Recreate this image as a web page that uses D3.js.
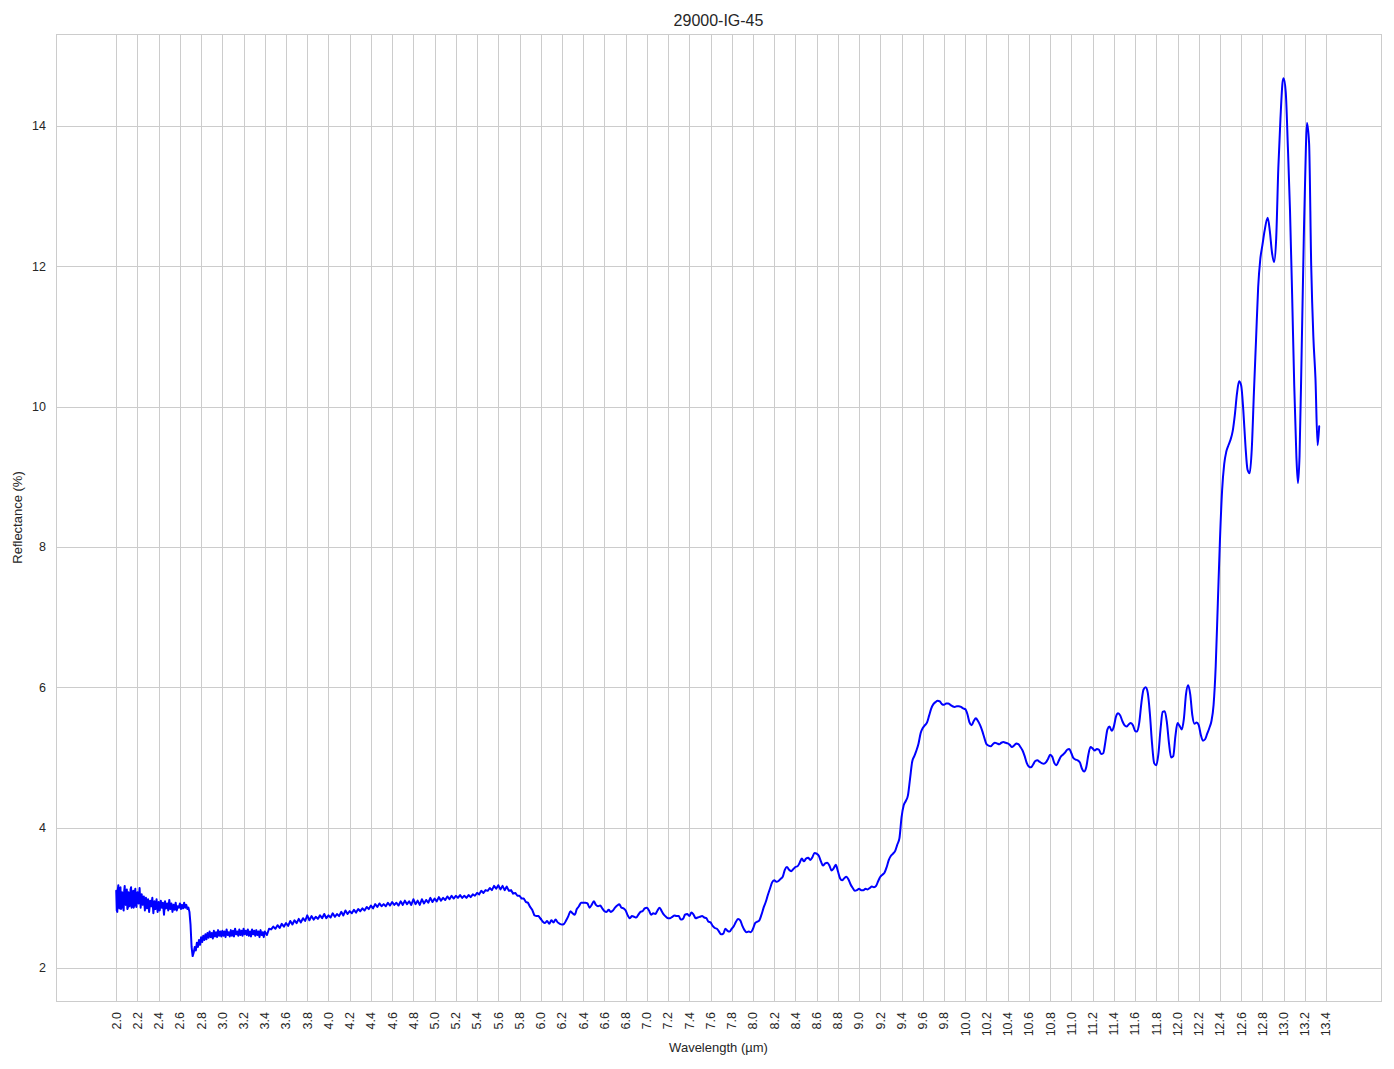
<!DOCTYPE html>
<html><head><meta charset="utf-8">
<script src="https://cdn.jsdelivr.net/npm/d3@7"></script>
<style>
body{margin:0;background:#fff}
text{font-family:"Liberation Sans",Arial,sans-serif;fill:#262626}
</style>
</head><body>
<svg id="chart" width="1394" height="1069"></svg>
<script>
const chartTitle = "29000-IG-45";
const xLabel = "Wavelength (µm)";
const yLabel = "Reflectance (%)";
const xTicks = [2.0,2.2,2.4,2.6,2.8,3.0,3.2,3.4,3.6,3.8,4.0,4.2,4.4,4.6,4.8,5.0,5.2,5.4,5.6,5.8,6.0,6.2,6.4,6.6,6.8,7.0,7.2,7.4,7.6,7.8,8.0,8.2,8.4,8.6,8.8,9.0,9.2,9.4,9.6,9.8,10.0,10.2,10.4,10.6,10.8,11.0,11.2,11.4,11.6,11.8,12.0,12.2,12.4,12.6,12.8,13.0,13.2,13.4];
const yTicks = [2,4,6,8,10,12,14];

// [wavelength, reflectance]
const segNoisy = [[2.00,3.10],[2.005,2.82],[2.01,2.80],[2.015,3.12],[2.02,3.18],[2.025,2.90],[2.03,2.85],[2.035,3.14],[2.04,3.15],[2.045,2.84],[2.05,2.88],[2.055,3.08],[2.06,3.05],[2.065,2.86],[2.07,2.82],[2.075,3.10],[2.08,3.17],[2.085,2.92],[2.09,2.90],[2.095,3.06],
[2.10,3.12],[2.105,2.84],[2.11,2.86],[2.115,3.08],[2.12,3.02],[2.125,2.88],[2.13,2.92],[2.135,3.12],[2.14,3.15],[2.145,2.86],[2.15,2.88],[2.155,3.04],[2.16,3.10],[2.165,2.86],[2.17,2.90],[2.175,3.08],[2.18,3.13],[2.185,2.90],[2.19,2.87],[2.195,3.04],
[2.20,3.08],[2.21,2.92],[2.22,3.14],[2.23,2.86],[2.24,3.05],[2.25,2.90],[2.26,3.02],[2.27,2.82],[2.28,3.00],[2.29,2.85],
[2.30,2.98],[2.31,2.80],[2.32,2.96],[2.33,2.88],[2.34,3.00],[2.35,2.78],[2.36,2.95],[2.37,2.84],[2.38,2.98],[2.39,2.80],
[2.40,2.94],[2.41,2.82],[2.42,2.96],[2.43,2.86],[2.44,2.93],[2.45,2.76],[2.46,2.95],[2.47,2.85],[2.48,2.92],[2.49,2.82],
[2.50,2.97],[2.51,2.84],[2.52,2.92],[2.53,2.80],[2.54,2.90],[2.55,2.83],[2.56,2.93],[2.57,2.82],[2.58,2.88],[2.59,2.86],
[2.60,2.92],[2.61,2.84],[2.62,2.90],[2.63,2.85],[2.64,2.93],[2.65,2.86],[2.66,2.90],[2.67,2.84],[2.68,2.86],[2.69,2.80]];
const segDip = [[2.70,2.62],[2.71,2.30],[2.72,2.17],[2.73,2.22],[2.74,2.30],[2.75,2.25],[2.76,2.36],[2.77,2.30],[2.78,2.40],[2.79,2.33],
[2.80,2.44],[2.81,2.37],[2.82,2.46],[2.83,2.40],[2.84,2.48],[2.85,2.41],[2.86,2.50],[2.87,2.43],[2.88,2.52],[2.89,2.44],
[2.90,2.50],[2.91,2.42],[2.92,2.53],[2.93,2.45],[2.94,2.51],[2.95,2.44],[2.96,2.54],[2.97,2.46],[2.98,2.52],[2.99,2.45]];
const segRise = [[3.00,2.53],[3.01,2.46],[3.02,2.52],[3.03,2.44],[3.04,2.55],[3.05,2.47],[3.06,2.51],[3.07,2.45],[3.08,2.54],[3.09,2.46],
[3.10,2.53],[3.11,2.45],[3.12,2.56],[3.13,2.48],[3.14,2.52],[3.15,2.46],[3.16,2.55],[3.17,2.47],[3.18,2.53],[3.19,2.46],
[3.20,2.56],[3.21,2.48],[3.22,2.53],[3.23,2.47],[3.24,2.55],[3.25,2.46],[3.26,2.52],[3.27,2.45],[3.28,2.55],[3.29,2.48],
[3.30,2.53],[3.31,2.46],[3.32,2.54],[3.33,2.47],[3.34,2.52],[3.35,2.44],[3.36,2.54],[3.37,2.47],[3.38,2.51],[3.39,2.44],
[3.40,2.52],[3.42,2.47],[3.44,2.56],[3.46,2.55],[3.48,2.59],[3.50,2.56],[3.52,2.61],[3.54,2.57],[3.56,2.63],[3.58,2.59],
[3.60,2.64],[3.62,2.60],[3.64,2.67],[3.66,2.62],[3.68,2.68],[3.70,2.64],[3.72,2.70],[3.74,2.65],[3.76,2.71],[3.78,2.67],
[3.80,2.75],[3.82,2.68],[3.84,2.74],[3.86,2.69],[3.88,2.73],[3.90,2.70],[3.92,2.75],[3.94,2.71],[3.96,2.77],[3.98,2.71],
[4.00,2.75],[4.02,2.72],[4.04,2.78],[4.06,2.73],[4.08,2.77],[4.10,2.74],[4.12,2.80],[4.14,2.75],[4.16,2.82],[4.18,2.77],
[4.20,2.81],[4.22,2.78],[4.24,2.83],[4.26,2.79],[4.28,2.84],[4.30,2.81],[4.32,2.85],[4.34,2.82],[4.36,2.87],[4.38,2.84],
[4.40,2.89],[4.42,2.85],[4.44,2.91],[4.46,2.87],[4.48,2.92],[4.50,2.88],[4.52,2.91],[4.54,2.88],[4.56,2.93],[4.58,2.89],
[4.60,2.94],[4.62,2.90],[4.64,2.93],[4.66,2.89],[4.68,2.95],[4.70,2.90],[4.72,2.96],[4.74,2.91],[4.76,2.95],[4.78,2.90],
[4.80,2.98],[4.82,2.91],[4.84,2.96],[4.86,2.90],[4.88,2.98],[4.90,2.92],[4.92,2.97],[4.94,2.93],[4.96,3.00],[4.98,2.94],
[5.00,2.99],[5.02,2.95],[5.04,3.01],[5.06,2.96],[5.08,3.00],[5.10,2.97],[5.12,3.02],[5.14,2.98],[5.16,3.03],[5.18,2.99],
[5.20,3.03],[5.22,3.00],[5.24,3.04],[5.26,3.00],[5.28,3.03],[5.30,3.00],[5.32,3.04],[5.34,3.01],[5.36,3.05],[5.38,3.03],
[5.40,3.07],[5.42,3.05],[5.44,3.10],[5.46,3.07],[5.48,3.11],[5.50,3.10],[5.52,3.14],[5.54,3.11],[5.56,3.17],[5.58,3.13],
[5.60,3.18],[5.62,3.12],[5.64,3.17],[5.66,3.11],[5.68,3.16],[5.70,3.10],[5.72,3.11],[5.74,3.06],[5.76,3.07],[5.78,3.03],
[5.80,3.03],[5.82,2.99],[5.84,2.99],[5.86,2.94],[5.88,2.93],[5.90,2.87],[5.92,2.83],[5.94,2.75],[5.96,2.74],[5.98,2.74]];
const segMid = [[6.00,2.70],[6.02,2.66],[6.04,2.64],[6.06,2.67],[6.08,2.63],[6.10,2.68],[6.12,2.65],[6.14,2.69],[6.16,2.65],[6.18,2.63],
[6.20,2.62],[6.22,2.63],[6.24,2.68],[6.26,2.74],[6.28,2.81],[6.30,2.78],[6.32,2.76],[6.34,2.84],[6.36,2.88],[6.38,2.93],
[6.40,2.93],[6.42,2.93],[6.44,2.92],[6.46,2.86],[6.48,2.90],[6.50,2.95],[6.52,2.90],[6.54,2.88],[6.56,2.89],[6.58,2.85],
[6.60,2.81],[6.62,2.80],[6.64,2.83],[6.66,2.80],[6.68,2.82],[6.70,2.86],[6.72,2.89],[6.74,2.91],[6.76,2.86],[6.78,2.85],
[6.80,2.82],[6.82,2.75],[6.84,2.71],[6.86,2.74],[6.88,2.73],[6.90,2.72],[6.92,2.76],[6.94,2.80],[6.96,2.81],[6.98,2.85],
[7.00,2.86],[7.02,2.82],[7.04,2.76],[7.06,2.78],[7.08,2.77],[7.10,2.82],[7.12,2.86],[7.14,2.81],[7.16,2.76],[7.18,2.73],
[7.20,2.71],[7.22,2.71],[7.24,2.73],[7.26,2.75],[7.28,2.74],[7.30,2.74],[7.32,2.69],[7.34,2.70],[7.36,2.76],[7.38,2.77],
[7.40,2.74],[7.42,2.79],[7.44,2.76],[7.46,2.71],[7.48,2.72],[7.50,2.73],[7.52,2.74],[7.54,2.72],[7.56,2.71],[7.58,2.66],
[7.60,2.65],[7.62,2.60],[7.64,2.57],[7.66,2.56],[7.68,2.52],[7.70,2.48],[7.72,2.49],[7.74,2.56],[7.76,2.53],[7.78,2.52],
[7.80,2.56],[7.82,2.60],[7.84,2.66],[7.86,2.70],[7.88,2.68],[7.90,2.60],[7.92,2.54],[7.94,2.51],[7.96,2.52],[7.98,2.51]];
const segBump = [[8.00,2.56],[8.02,2.64],[8.04,2.66],[8.06,2.68],[8.08,2.76],[8.10,2.86],[8.12,2.94],[8.14,3.04],[8.16,3.13],[8.18,3.22],
[8.20,3.25],[8.22,3.23],[8.24,3.24],[8.26,3.27],[8.28,3.30],[8.30,3.40],[8.32,3.44],[8.34,3.40],[8.36,3.38],[8.38,3.41],
[8.40,3.44],[8.42,3.45],[8.44,3.50],[8.46,3.56],[8.48,3.52],[8.50,3.56],[8.52,3.57],[8.54,3.54],[8.56,3.58],[8.58,3.64],
[8.60,3.63],[8.62,3.60],[8.64,3.52],[8.66,3.46],[8.68,3.49],[8.70,3.50],[8.72,3.46],[8.74,3.39],[8.76,3.42],[8.78,3.47],
[8.80,3.38],[8.82,3.28],[8.84,3.25],[8.86,3.28],[8.88,3.30],[8.90,3.26],[8.92,3.19],[8.94,3.14],[8.96,3.10],[8.98,3.11],
[9.00,3.13],[9.02,3.11],[9.04,3.11],[9.06,3.13],[9.08,3.12],[9.10,3.14],[9.12,3.16],[9.14,3.15],[9.16,3.17],[9.18,3.24],
[9.20,3.30],[9.22,3.33],[9.24,3.36],[9.26,3.44],[9.28,3.54],[9.30,3.60],[9.32,3.63],[9.34,3.67],[9.36,3.76],[9.38,3.85]];
const segPlateau = [[9.40,4.15],[9.42,4.32],[9.44,4.38],[9.46,4.46],[9.48,4.70],[9.50,4.94],[9.52,5.02],[9.54,5.10],[9.56,5.20],[9.58,5.35],
[9.60,5.42],[9.62,5.46],[9.64,5.50],[9.66,5.60],[9.68,5.70],[9.70,5.76],[9.72,5.79],[9.74,5.81],[9.76,5.80],[9.78,5.76],
[9.80,5.75],[9.82,5.77],[9.84,5.77],[9.86,5.75],[9.88,5.73],[9.90,5.72],[9.92,5.73],[9.94,5.73],[9.96,5.72],[9.98,5.70],
[10.00,5.69],[10.02,5.62],[10.04,5.50],[10.06,5.46],[10.08,5.52],[10.10,5.56],[10.12,5.52],[10.14,5.46],[10.16,5.38],[10.18,5.28],
[10.20,5.19],[10.22,5.17],[10.24,5.16],[10.26,5.19],[10.28,5.21],[10.30,5.20],[10.32,5.19],[10.34,5.21],[10.36,5.22],[10.38,5.21],
[10.40,5.20],[10.42,5.18],[10.44,5.15],[10.46,5.17],[10.48,5.20],[10.50,5.19],[10.52,5.15],[10.54,5.10],[10.56,5.02],[10.58,4.92],
[10.60,4.87],[10.62,4.86],[10.64,4.90],[10.66,4.95],[10.68,4.96],[10.70,4.94],[10.72,4.92],[10.74,4.91],[10.76,4.93],[10.78,4.98],
[10.80,5.04],[10.82,5.01],[10.84,4.92],[10.86,4.89],[10.88,4.95],[10.90,5.01],[10.92,5.04],[10.94,5.07],[10.96,5.11],[10.98,5.12],
[11.00,5.06],[11.02,4.99],[11.04,4.97],[11.06,4.96],[11.08,4.93],[11.10,4.84],[11.12,4.80],[11.14,4.86],[11.16,5.04],[11.18,5.15],
[11.20,5.13],[11.22,5.10],[11.24,5.12],[11.26,5.11],[11.28,5.05],[11.30,5.06],[11.32,5.22],[11.34,5.40],[11.36,5.44],[11.38,5.38],
[11.40,5.44],[11.42,5.58],[11.44,5.63],[11.46,5.60],[11.48,5.52],[11.50,5.46],[11.52,5.44],[11.54,5.47],[11.56,5.49],[11.58,5.46],
[11.60,5.38],[11.62,5.37],[11.64,5.50],[11.66,5.78],[11.68,5.97],[11.70,6.00],[11.72,5.92],[11.74,5.62],[11.76,5.20],[11.78,4.92],
[11.80,4.89],[11.82,5.05],[11.84,5.40],[11.86,5.65],[11.88,5.66],[11.90,5.50],[11.92,5.20],[11.94,5.00],[11.96,5.02],[11.98,5.30],
[12.00,5.49],[12.02,5.45],[12.04,5.40],[12.06,5.55],[12.08,5.90],[12.10,6.03],[12.12,5.90],[12.14,5.60],[12.16,5.48],[12.18,5.50],
[12.20,5.46],[12.22,5.32],[12.24,5.24],[12.26,5.26],[12.28,5.34],[12.30,5.42],[12.32,5.52]];
const segPeaks = [[12.34,5.75],[12.36,6.30],[12.38,7.20],[12.40,8.10],[12.42,8.80],[12.44,9.18],[12.46,9.36],[12.48,9.45],[12.50,9.53],
[12.52,9.65],[12.54,9.88],[12.56,10.18],[12.58,10.36],[12.60,10.30],[12.62,9.95],[12.64,9.45],[12.66,9.10],[12.68,9.05],[12.70,9.40],
[12.72,10.20],[12.74,10.95],[12.76,11.70],[12.78,12.10],[12.80,12.30],[12.82,12.50],[12.85,12.69],[12.87,12.50],[12.89,12.20],[12.91,12.06],
[12.93,12.40],[12.95,13.40],[12.97,14.10],[12.99,14.62],[13.00,14.68],[13.02,14.48],[13.04,13.70],[13.06,12.80],[13.08,11.60],[13.10,10.30],
[13.12,9.30],[13.135,8.91],[13.15,9.30],[13.17,10.80],[13.19,12.40],[13.21,13.70],[13.22,14.04],[13.24,13.75],[13.26,12.00],[13.28,11.00],
[13.30,10.40],[13.32,9.45],[13.335,9.72]];

const m = {left:56, right:1381, top:34, bottom:1001};
const noisyData = [].concat(segNoisy, segDip, segRise, [segMid[0]]);
const smoothData = [].concat(segMid, segBump, segPlateau, segPeaks);

const svg = d3.select("#chart");
const x = d3.scaleLinear().domain([1.4325, 13.9175]).range([m.left, m.right]);
const y = d3.scaleLinear().domain([1.53, 15.31]).range([m.bottom, m.top]);

// grid
svg.append("g").selectAll("line").data(xTicks).join("line")
  .attr("x1", d => Math.round(x(d)) + 0.5).attr("x2", d => Math.round(x(d)) + 0.5)
  .attr("y1", m.top).attr("y2", m.bottom)
  .attr("stroke", "#cccccc").attr("stroke-width", 1);
svg.append("g").selectAll("line").data(yTicks).join("line")
  .attr("y1", d => Math.round(y(d)) + 0.5).attr("y2", d => Math.round(y(d)) + 0.5)
  .attr("x1", m.left).attr("x2", m.right)
  .attr("stroke", "#cccccc").attr("stroke-width", 1);

// spines
svg.append("rect").attr("x", m.left + 0.5).attr("y", m.top + 0.5)
  .attr("width", m.right - m.left).attr("height", m.bottom - m.top)
  .attr("fill", "none").attr("stroke", "#cccccc").attr("stroke-width", 1);

// line
const lineLin = d3.line().x(d => x(d[0])).y(d => y(d[1])).curve(d3.curveLinear);
const lineSmooth = d3.line().x(d => x(d[0])).y(d => y(d[1])).curve(d3.curveMonotoneX);
svg.append("path").datum(noisyData).attr("d", lineLin)
  .attr("fill", "none").attr("stroke", "#0000ff").attr("stroke-width", 2)
  .attr("stroke-linejoin", "round").attr("stroke-linecap", "round");
svg.append("path").datum(smoothData).attr("d", lineSmooth)
  .attr("fill", "none").attr("stroke", "#0000ff").attr("stroke-width", 2)
  .attr("stroke-linejoin", "round").attr("stroke-linecap", "round");

// x tick labels
svg.append("g").selectAll("text").data(xTicks).join("text")
  .attr("transform", d => `translate(${x(d)},${m.bottom + 11}) rotate(-90)`)
  .attr("text-anchor", "end").attr("dy", "0.35em")
  .style("font-size", "12.5px")
  .text(d => d.toFixed(1));

// y tick labels
svg.append("g").selectAll("text").data(yTicks).join("text")
  .attr("x", m.left - 10).attr("y", d => y(d)).attr("dy", "0.35em")
  .attr("text-anchor", "end").style("font-size", "12.5px")
  .text(d => d);

// axis labels and title
svg.append("text").attr("x", (m.left + m.right) / 2).attr("y", 1052)
  .attr("text-anchor", "middle").style("font-size", "13px").text(xLabel);
svg.append("text").attr("transform", `translate(22,${(m.top + m.bottom) / 2}) rotate(-90)`)
  .attr("text-anchor", "middle").style("font-size", "13px").text(yLabel);
svg.append("text").attr("x", (m.left + m.right) / 2).attr("y", 26)
  .attr("text-anchor", "middle").style("font-size", "16px").text(chartTitle);
</script>
</body></html>
